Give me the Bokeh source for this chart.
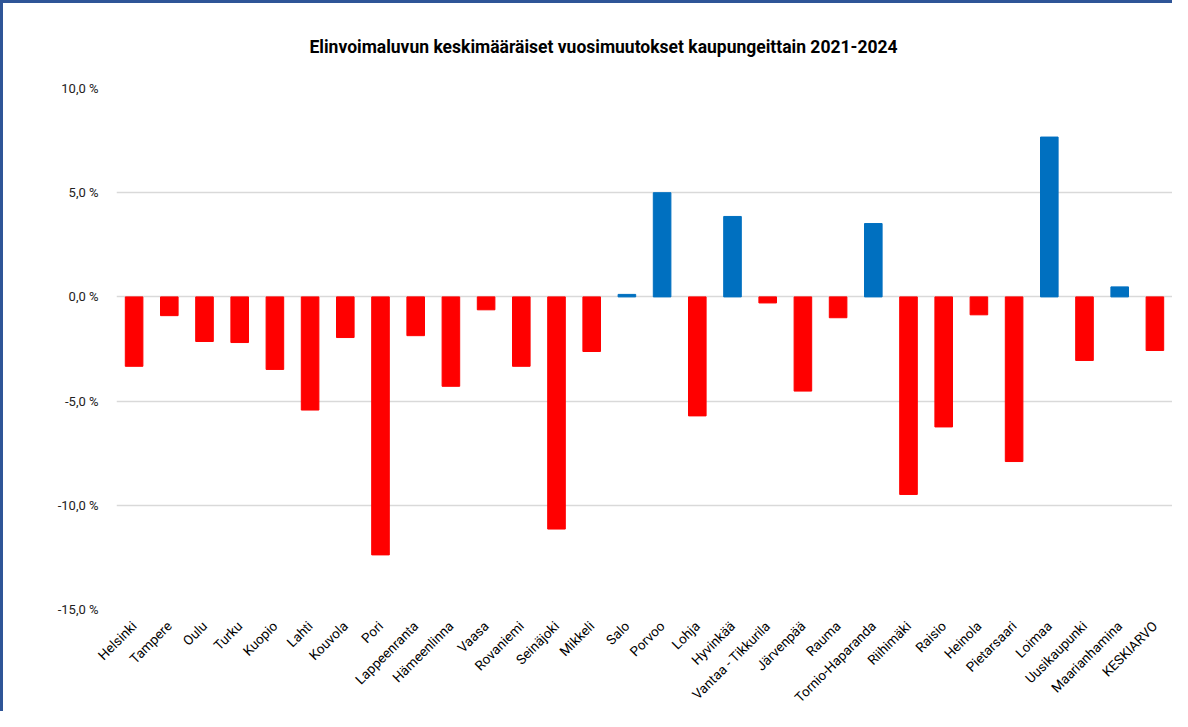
from bokeh.plotting import figure
from bokeh.models import ColumnDataSource, Range1d, CustomJSTickFormatter, FixedTicker
from bokeh.embed import file_html
from bokeh.resources import INLINE
from math import pi

title_text = "Elinvoimaluvun keskimääräiset vuosimuutokset kaupungeittain 2021-2024"

cities = ["Helsinki", "Tampere", "Oulu", "Turku", "Kuopio", "Lahti", "Kouvola", "Pori",
          "Lappeenranta", "Hämeenlinna", "Vaasa", "Rovaniemi", "Seinäjoki", "Mikkeli",
          "Salo", "Porvoo", "Lohja", "Hyvinkää", "Vantaa - Tikkurila", "Järvenpää",
          "Rauma", "Tornio-Haparanda", "Riihimäki", "Raisio", "Heinola", "Pietarsaari",
          "Loimaa", "Uusikaupunki", "Maarianhamina", "KESKIARVO"]

change_pct = [-3.33, -0.90, -2.14, -2.19, -3.48, -5.43, -1.95, -12.38,
              -1.86, -4.29, -0.62, -3.33, -11.14, -2.62,
              0.12, 5.00, -5.71, 3.86, -0.29, -4.52,
              -1.00, 3.52, -9.48, -6.24, -0.86, -7.90,
              7.67, -3.05, 0.48, -2.57]

y_ticks = [-15, -10, -5, 0, 5, 10]

colors = ["#0070C0" if v > 0 else "#FF0000" for v in change_pct]
src = ColumnDataSource(dict(city=cities, val=change_pct, color=colors))

FONT = "Roboto"

p = figure(x_range=cities, y_range=Range1d(-15, 10), width=1172, height=711,
           output_backend="svg", toolbar_location=None,
           min_border_left=113, min_border_right=3, min_border_top=0, min_border_bottom=101)
p.styles = {"border-left": "3px solid #2F5597", "border-top": "3px solid #2F5597"}

p.vbar(x="city", top="val", bottom=0, width=0.5, color="color", source=src)

p.title.text = title_text
p.title.align = "left"
p.title.text_font = FONT
p.title.text_font_size = "17.5px"
p.title.text_font_style = "bold"
p.title.text_color = "#000000"
p.title.offset = 193
p.title.standoff = 63

p.yaxis.ticker = FixedTicker(ticks=y_ticks)
p.yaxis.formatter = CustomJSTickFormatter(code="return tick.toFixed(1).replace('.', ',') + ' %';")
p.yaxis.axis_line_color = None
p.yaxis.major_tick_line_color = None
p.yaxis.minor_tick_line_color = None
p.yaxis.major_label_text_font = FONT
p.yaxis.major_label_text_font_size = "13px"
p.yaxis.major_label_text_color = "#222222"
p.yaxis.major_label_standoff = 12

p.xaxis.axis_line_color = None
p.xaxis.major_tick_line_color = None
p.xaxis.major_label_orientation = pi / 4
p.xaxis.major_label_text_font = FONT
p.xaxis.major_label_text_font_size = "13.5px"
p.xaxis.major_label_text_color = "#000000"
p.xaxis.major_label_standoff = 8

p.xgrid.grid_line_color = None
p.ygrid.grid_line_color = "#D9D9D9"
p.ygrid.grid_line_width = 1.5
p.outline_line_color = None

open("out.html", "w").write(file_html(p, INLINE))
